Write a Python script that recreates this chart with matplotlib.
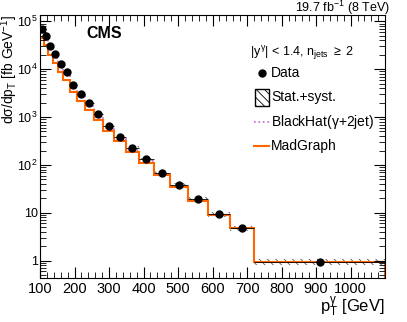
import matplotlib
matplotlib.use("Agg")
import matplotlib.pyplot as plt
import numpy as np
from matplotlib.patches import Rectangle
from matplotlib.ticker import FixedLocator, MultipleLocator, LogLocator, NullFormatter

plt.rcParams['font.family'] = ['Liberation Sans', 'DejaVu Sans']
plt.rcParams['mathtext.fontset'] = 'custom'
plt.rcParams['mathtext.rm'] = 'Liberation Sans'
plt.rcParams['mathtext.it'] = 'Liberation Sans'
plt.rcParams['hatch.color'] = '#555555'
plt.rcParams['hatch.linewidth'] = 0.6

# photon pT bin edges [GeV]
edges = [100, 111, 123, 137, 152, 168, 187, 207, 230, 255, 283, 314, 348,
         387, 429, 476, 528, 586, 650, 720, 1100]
# measured cross section [fb/GeV]
data = [69500, 50400, 31100, 20600, 13100, 8910, 4770, 3090, 1950, 1150,
        663, 390, 223, 131, 69, 38.7, 19.2, 9.3, 4.82, 0.94]
data_x = [105, 117, 130, 144.5, 160, 177.5, 197, 218.5, 242.5, 269, 298.5,
          331, 367.5, 408, 452.5, 502, 557, 618, 685, 910]
rel_unc = [0.08, 0.08, 0.08, 0.08, 0.08, 0.08, 0.08, 0.08, 0.08, 0.08,
           0.08, 0.08, 0.09, 0.09, 0.09, 0.10, 0.10, 0.11, 0.12, 0.13]
# predictions
blackhat = [58000, 42000, 26000, 17500, 11000, 7500, 4100, 2700, 1700, 1020,
            590, 355, 205, 122, 65, 37, 18.5, 9.1, 4.75, 0.93]
madgraph = [44000, 32000, 20000, 13500, 8700, 5900, 3300, 2200, 1420, 860,
            510, 310, 185, 112, 61, 35, 18, 8.8, 4.7, 0.92]

BH_COL = '#cc66cc'
MG_COL = '#ff6600'

fig = plt.figure(figsize=(4.07, 3.22), dpi=100)
ax = fig.add_axes([0.0983, 0.1376, 0.848, 0.8158])

e = np.array(edges)
d = np.array(data)
# error band boxes
for i in range(len(d)):
    lo = d[i] * (1 - rel_unc[i])
    hi = d[i] * (1 + rel_unc[i])
    ax.fill_between([e[i], e[i+1]], lo, hi, facecolor='none',
                    edgecolor='#555555', hatch='\\\\\\\\', linewidth=0)

ax.stairs(blackhat, edges, color=BH_COL, linestyle=':', linewidth=1.2)
ax.stairs(madgraph, edges, color=MG_COL, linewidth=1.5)

xerr = [np.array(data_x) - e[:-1], e[1:] - np.array(data_x)]
ax.errorbar(data_x, data, xerr=xerr, yerr=d*rel_unc*0.5, fmt='o', color='black',
            markersize=5, elinewidth=0.6, capsize=0)

ax.set_yscale('log')
ax.set_xlim(100, 1100)
ax.set_ylim(0.44, 1.36e5)

ax.xaxis.set_major_locator(FixedLocator([100, 200, 300, 400, 500, 600, 700, 800, 900, 1000]))
ax.xaxis.set_minor_locator(MultipleLocator(20))
ax.yaxis.set_minor_locator(LogLocator(base=10, subs=np.arange(2, 10), numticks=20))
ax.yaxis.set_minor_formatter(NullFormatter())
ax.set_yticks([1, 10, 100, 1000, 1e4, 1e5])
ax.set_yticklabels(['1', '10', '$10^2$', '$10^3$', '$10^4$', '$10^5$'])
ax.tick_params(which='both', direction='in', top=True, right=True, labelsize=10.5)
ax.tick_params(axis='y', labelsize=9)
ax.tick_params(which='major', length=8)
ax.tick_params(which='minor', length=4)
ax.tick_params(axis='x', pad=3)
ax.tick_params(axis='y', pad=1.5)

ax.set_xlabel('$p_{T}^{\\gamma}$ [GeV]', fontsize=12, ha='right')
ax.xaxis.set_label_coords(1.0, -0.065)
ax.set_ylabel('d$\\sigma$/d$p_{T}$ [fb GeV$^{-1}$]', fontsize=10, ha='right')
ax.yaxis.set_label_coords(-0.058, 1.0)

ax.text(0.133, 0.931, 'CMS', transform=ax.transAxes, fontsize=11.5,
        fontweight='bold', va='center')
fig.text(0.958, 0.963, '19.7 fb$^{-1}$ (8 TeV)', ha='right', va='baseline', fontsize=9)


# hand-made legend, positions in pixels of the reference
def fx(px):
    return (px - 40) / 345.0


def fy(py):
    return (277.7 - py) / 262.7


tr = ax.transAxes
ax.text(fx(250), fy(53), '$|y^{\\gamma}|$ < 1.4, $n_{\\rm jets}$ $\\geq$ 2',
        transform=tr, fontsize=9, va='center')
ax.plot([fx(262)], [fy(73)], 'o', color='black', markersize=5, transform=tr)
ax.text(fx(271), fy(73), 'Data', transform=tr, fontsize=10, va='center')
ax.add_patch(Rectangle((fx(255), fy(106)), fx(269) - fx(255), fy(89) - fy(106),
                       transform=tr, facecolor='white', edgecolor='black',
                       hatch='\\\\\\\\', linewidth=1))
ax.text(fx(271), fy(97), 'Stat.+syst.', transform=tr, fontsize=10, va='center')
ax.plot([fx(254), fx(269)], [fy(122), fy(122)], color=BH_COL, linestyle=':',
        linewidth=1.2, transform=tr)
ax.text(fx(271), fy(122), 'BlackHat($\\gamma$+2jet)', transform=tr, fontsize=10,
        va='center')
ax.plot([fx(254), fx(269)], [fy(146), fy(146)], color=MG_COL, linewidth=1.5,
        transform=tr)
ax.text(fx(271), fy(146), 'MadGraph', transform=tr, fontsize=10, va='center')

fig.savefig('out.png', dpi=100)
